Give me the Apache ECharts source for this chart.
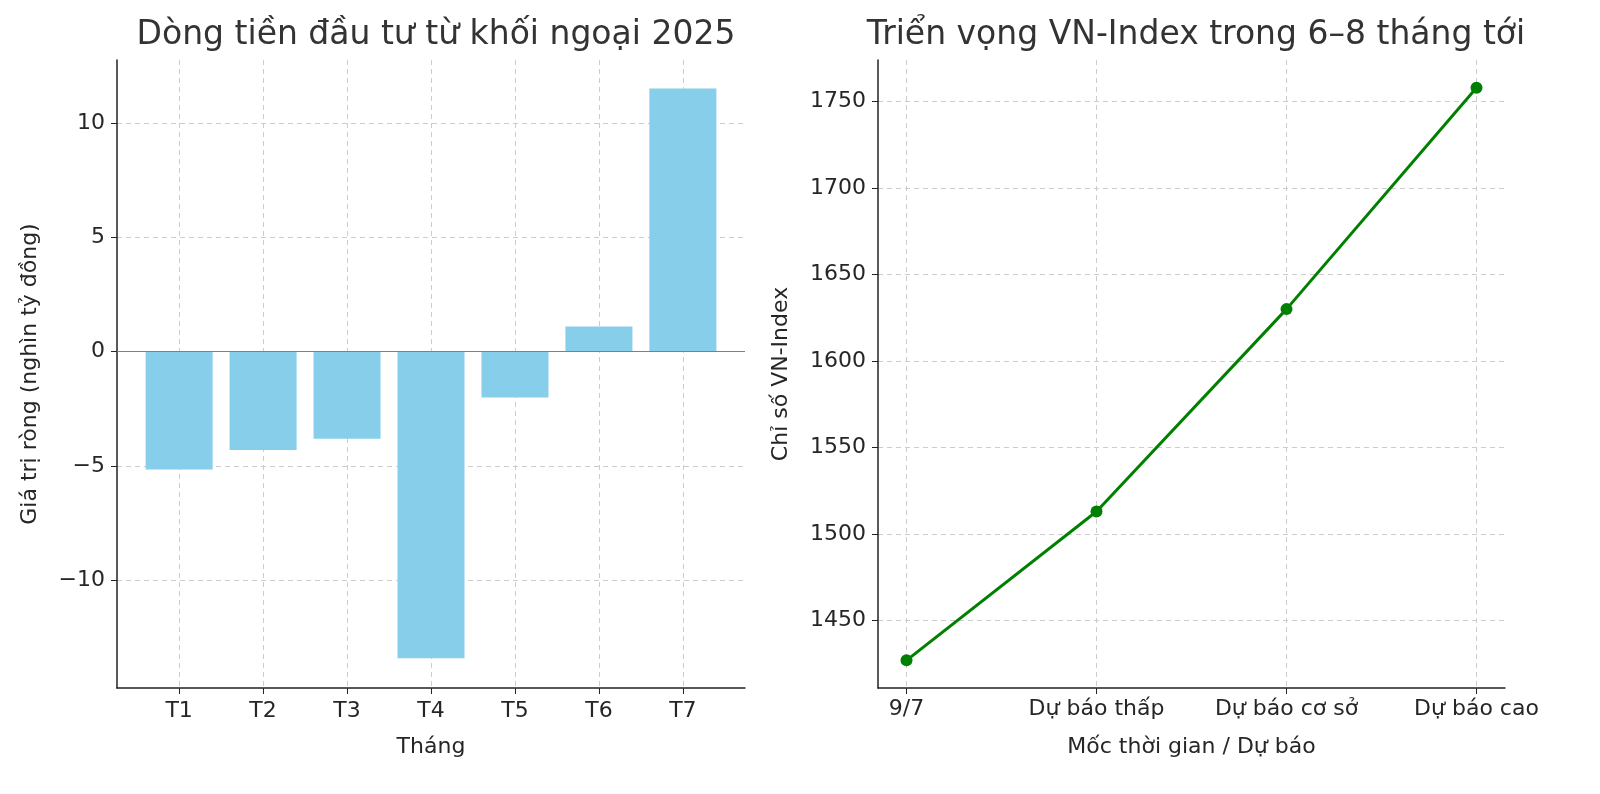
<!DOCTYPE html>
<html><head><meta charset="utf-8">
<script src="https://cdn.jsdelivr.net/npm/echarts@6/dist/echarts.min.js"></script>
<style>html,body{margin:0;background:#fff}#c{width:1600px;height:794px}</style>
</head><body><div id="c"></div>
<script>
const months = ['T1','T2','T3','T4','T5','T6','T7'];
const flows = [-5.15, -4.3, -3.8, -13.4, -2.0, 1.1, 11.5];
const milestones = ['9/7','Dự báo thấp','Dự báo cơ sở','Dự báo cao'];
const vnIndex = [1427, 1513, 1630, 1758];
const leftTicks = [-10, -5, 0, 5, 10];
const rightTicks = [1450, 1500, 1550, 1600, 1650, 1700, 1750];

const font = 'DejaVu Sans';
const txt = {color:'#262626', fontFamily:font, fontSize:22};
const axisLine = {show:true, onZero:false, lineStyle:{color:'#222', width:1.5}};
const split = {show:true, lineStyle:{color:'#cccccc', type:[5,4], width:1}};
const tick = {show:true, length:6, lineStyle:{color:'#222'}};

const chart = echarts.init(document.getElementById('c'));
chart.setOption({
  animation:false,
  title:[
    {text:'Dòng tiền đầu tư từ khối ngoại 2025', left:431, top:14, textAlign:'center', textStyle:{fontFamily:font, fontSize:33, fontWeight:'normal', color:'#333'}},
    {text:'Triển vọng VN-Index trong 6–8 tháng tới', left:1191, top:14, textAlign:'center', textStyle:{fontFamily:font, fontSize:33, fontWeight:'normal', color:'#333'}}
  ],
  grid:[
    {left:117, width:628, top:60, height:628},
    {left:878, width:627, top:60, height:628}
  ],
  xAxis:[
    {gridIndex:0, type:'value', min:0.26, max:7.74,
     name:'Tháng', nameLocation:'middle', nameGap:48, nameTextStyle:txt,
     axisLine:axisLine, axisTick:Object.assign({customValues:[1,2,3,4,5,6,7]},tick),
     axisLabel:Object.assign({customValues:[1,2,3,4,5,6,7], margin:12, formatter:v=>months[Math.round(v)-1]},txt),
     splitLine:split},
    {gridIndex:1, type:'value', min:-0.15, max:3.15,
     name:'Mốc thời gian / Dự báo', nameLocation:'middle', nameGap:48, nameTextStyle:txt,
     axisLine:axisLine, axisTick:Object.assign({customValues:[0,1,2,3]},tick),
     axisLabel:Object.assign({customValues:[0,1,2,3], margin:10, formatter:v=>milestones[Math.round(v)]},txt),
     splitLine:split}
  ],
  yAxis:[
    {gridIndex:0, type:'value', min:-14.7, max:12.75,
     name:'Giá trị ròng (nghìn tỷ đồng)', nameLocation:'middle', nameGap:76, nameTextStyle:txt,
     axisLine:axisLine, axisTick:Object.assign({customValues:leftTicks},tick),
     axisLabel:Object.assign({customValues:leftTicks, margin:12, formatter:v=>v<0?'−'+(-v):String(v)},txt),
     splitLine:split},
    {gridIndex:1, type:'value', min:1411, max:1774,
     name:'Chỉ số VN-Index', nameLocation:'middle', nameGap:86, nameTextStyle:txt,
     axisLine:axisLine, axisTick:Object.assign({customValues:rightTicks},tick),
     axisLabel:Object.assign({customValues:rightTicks, margin:12, formatter:v=>String(v)},txt),
     splitLine:split}
  ],
  series:[
    {type:'bar', xAxisIndex:0, yAxisIndex:0, barWidth:67,
     data:flows.map((v,i)=>[i+1,v]), itemStyle:{color:'#87ceeb'},
     markLine:{silent:true, symbol:'none', label:{show:false}, lineStyle:{color:'#808080', type:'solid', width:1.2}, data:[{yAxis:0}]}},
    {type:'line', xAxisIndex:1, yAxisIndex:1, data:vnIndex.map((v,i)=>[i,v]),
     symbol:'circle', symbolSize:12, lineStyle:{color:'#008000', width:3}, itemStyle:{color:'#008000'}}
  ]
});
</script></body></html>
